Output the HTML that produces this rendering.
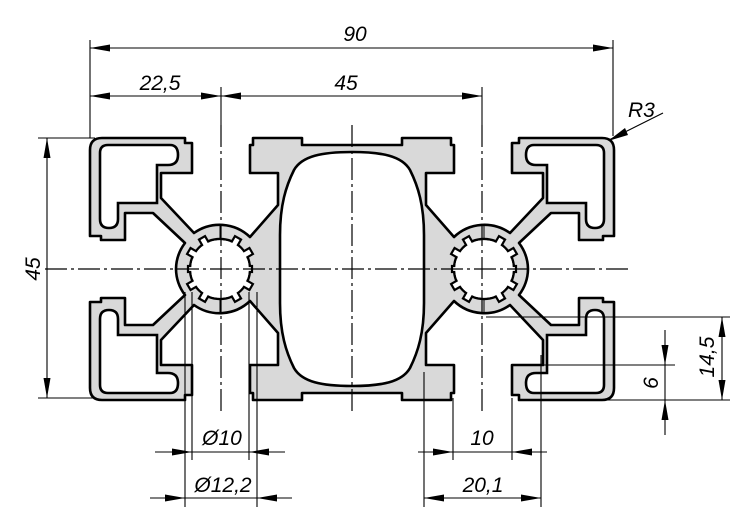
<!DOCTYPE html>
<html><head><meta charset="utf-8"><style>
html,body{margin:0;padding:0;background:#fff;}
svg{display:block;}
text{font-family:"Liberation Sans",sans-serif;font-style:italic;font-size:21px;fill:#000;}
</style></head><body>
<svg width="750" height="529" viewBox="0 0 750 529" xmlns="http://www.w3.org/2000/svg">
<defs>
<g id="qf">
<path d="M176,269 A44,44 0 0 1 185,243 L153,213 L125,213 L125,240 L101,240 L101,236 L90,236 L90,150 Q90,138 102,138 L185,138 L185,143 L192,143 L192,173 L161,173 L161,198 L194,233 A44,44 0 0 1 250,237 L278,205 L278,173 L250,173 L250,145 L253,145 L253,138 L302,138 L302,145 L352,145 L352,269 Z" fill="#d9d9d9" stroke="none"/>
</g>
<g id="qs">
<path d="M176,269 A44,44 0 0 1 185,243 L153,213 L125,213 L125,240 L101,240 L101,236 L90,236 L90,150 Q90,138 102,138 L185,138 L185,143 L192,143 L192,173 L161,173 L161,198 L194,233 A44,44 0 0 1 250,237 L278,205 L278,173 L250,173 L250,145 L253,145 L253,138 L302,138 L302,145 L352,145" fill="none" stroke="#000" stroke-width="2.6" stroke-linejoin="round"/>
<path d="M100,153 Q100,145 108,145 L170,145 Q178,145 178,155 Q178,165 168,165 L157,165 L157,203 L118,203 L118,219 Q118,228 109,228 Q100,228 100,219 Z" fill="#fff" stroke="#000" stroke-width="2.6"/>
<line x1="220" y1="225" x2="220" y2="240" stroke="#000" stroke-width="1"/>
</g>
<g id="star">
<circle cx="0" cy="0" r="30" fill="#fff" stroke="#000" stroke-width="2.4"/>
<g fill="#fff" stroke="#000" stroke-width="2.2">
<rect x="25" y="-3.5" width="11" height="7" transform="rotate(30)"/>
<rect x="25" y="-3.5" width="11" height="7" transform="rotate(60)"/>
<rect x="25" y="-3.5" width="11" height="7" transform="rotate(120)"/>
<rect x="25" y="-3.5" width="11" height="7" transform="rotate(150)"/>
<rect x="25" y="-3.5" width="11" height="7" transform="rotate(210)"/>
<rect x="25" y="-3.5" width="11" height="7" transform="rotate(240)"/>
<rect x="25" y="-3.5" width="11" height="7" transform="rotate(300)"/>
<rect x="25" y="-3.5" width="11" height="7" transform="rotate(330)"/>
<rect x="26" y="-3" width="6" height="6" transform="rotate(0)"/>
<rect x="26" y="-3" width="6" height="6" transform="rotate(180)"/>
</g>
<circle cx="0" cy="0" r="28.8" fill="#fff"/>
</g>
</defs>

<use href="#qf"/>
<use href="#qf" transform="translate(704,0) scale(-1,1)"/>
<use href="#qf" transform="translate(0,538) scale(1,-1)"/>
<use href="#qf" transform="translate(704,538) scale(-1,-1)"/>
<path d="M352,152 C322,152 302,156 294,170 C286,186 280,205 280,235 L280,303 C280,333 286,352 294,368 C302,382 322,386 352,386 C382,386 402,382 410,368 C418,352 424,333 424,303 L424,235 C424,205 418,186 410,170 C402,156 382,152 352,152 Z" fill="#fff" stroke="#000" stroke-width="2.6"/>
<use href="#qs"/>
<use href="#qs" transform="translate(704,0) scale(-1,1)"/>
<use href="#qs" transform="translate(0,538) scale(1,-1)"/>
<use href="#qs" transform="translate(704,538) scale(-1,-1)"/>
<use href="#star" transform="translate(220,269)"/>
<use href="#star" transform="translate(484,269)"/>

<g stroke="#000" stroke-width="1.2" fill="none" stroke-dasharray="22,4,3,4">
<line x1="45" y1="269" x2="632" y2="269"/>
<line x1="221" y1="125" x2="221" y2="412"/>
<line x1="352" y1="125" x2="352" y2="412"/>
<line x1="482" y1="125" x2="482" y2="412"/>
</g>

<g stroke="#000" stroke-width="1.1" fill="none">
<line x1="90" y1="40" x2="90" y2="138"/>
<line x1="613" y1="40" x2="613" y2="136"/>
<line x1="221" y1="87" x2="221" y2="125"/>
<line x1="482" y1="87" x2="482" y2="125"/>
<line x1="90" y1="48" x2="613" y2="48"/>
<line x1="90" y1="96" x2="482" y2="96"/>
<line x1="38" y1="138" x2="95" y2="138"/>
<line x1="38" y1="398" x2="95" y2="398"/>
<line x1="47" y1="138" x2="47" y2="398"/>
<line x1="663" y1="113" x2="609" y2="140"/>
<line x1="185" y1="292" x2="185" y2="507"/>
<line x1="192" y1="292" x2="192" y2="460"/>
<line x1="249" y1="292" x2="249" y2="460"/>
<line x1="257" y1="292" x2="257" y2="507"/>
<line x1="424" y1="372" x2="424" y2="507"/>
<line x1="453" y1="398" x2="453" y2="460"/>
<line x1="512" y1="398" x2="512" y2="460"/>
<line x1="541" y1="355" x2="541" y2="507"/>
<line x1="155" y1="452" x2="285" y2="452"/>
<line x1="150" y1="498" x2="292" y2="498"/>
<line x1="418" y1="452" x2="547" y2="452"/>
<line x1="424" y1="498" x2="541" y2="498"/>
<line x1="486" y1="317" x2="730" y2="317"/>
<line x1="530" y1="365" x2="675" y2="365"/>
<line x1="600" y1="400" x2="730" y2="400"/>
<line x1="722" y1="317" x2="722" y2="400"/>
<line x1="665" y1="330" x2="665" y2="435"/>
</g>
<g fill="#000">
<polygon points="90,48 110,44.5 110,51.5"/>
<polygon points="613,48 593,44.5 593,51.5"/>
<polygon points="90,96 110,92.5 110,99.5"/>
<polygon points="221,96 201,92.5 201,99.5"/>
<polygon points="221,96 241,92.5 241,99.5"/>
<polygon points="482,96 462,92.5 462,99.5"/>
<polygon points="47,138 43.5,158 50.5,158"/>
<polygon points="47,398 43.5,378 50.5,378"/>
<polygon points="608,141 625,128 628,135"/>
<polygon points="192,452 172,448.5 172,455.5"/>
<polygon points="249,452 269,448.5 269,455.5"/>
<polygon points="185,498 165,494.5 165,501.5"/>
<polygon points="257,498 277,494.5 277,501.5"/>
<polygon points="453,452 433,448.5 433,455.5"/>
<polygon points="512,452 532,448.5 532,455.5"/>
<polygon points="424,498 444,494.5 444,501.5"/>
<polygon points="541,498 521,494.5 521,501.5"/>
<polygon points="722,317 718.5,337 725.5,337"/>
<polygon points="722,400 718.5,380 725.5,380"/>
<polygon points="665,365 661.5,345 668.5,345"/>
<polygon points="665,400 661.5,420 668.5,420"/>
</g>

<text x="355" y="41" text-anchor="middle">90</text>
<text x="160" y="90" text-anchor="middle">22,5</text>
<text x="346" y="90" text-anchor="middle">45</text>
<text x="0" y="0" text-anchor="middle" transform="translate(40,269) rotate(-90)">45</text>
<text x="628" y="117">R3</text>
<text x="222" y="445" text-anchor="middle">Ø10</text>
<text x="223" y="492" text-anchor="middle">Ø12,2</text>
<text x="482" y="445" text-anchor="middle">10</text>
<text x="483" y="492" text-anchor="middle">20,1</text>
<text x="0" y="0" text-anchor="middle" transform="translate(714,357) rotate(-90)">14,5</text>
<text x="0" y="0" text-anchor="middle" transform="translate(658,383) rotate(-90)">6</text>
</svg>
</body></html>
